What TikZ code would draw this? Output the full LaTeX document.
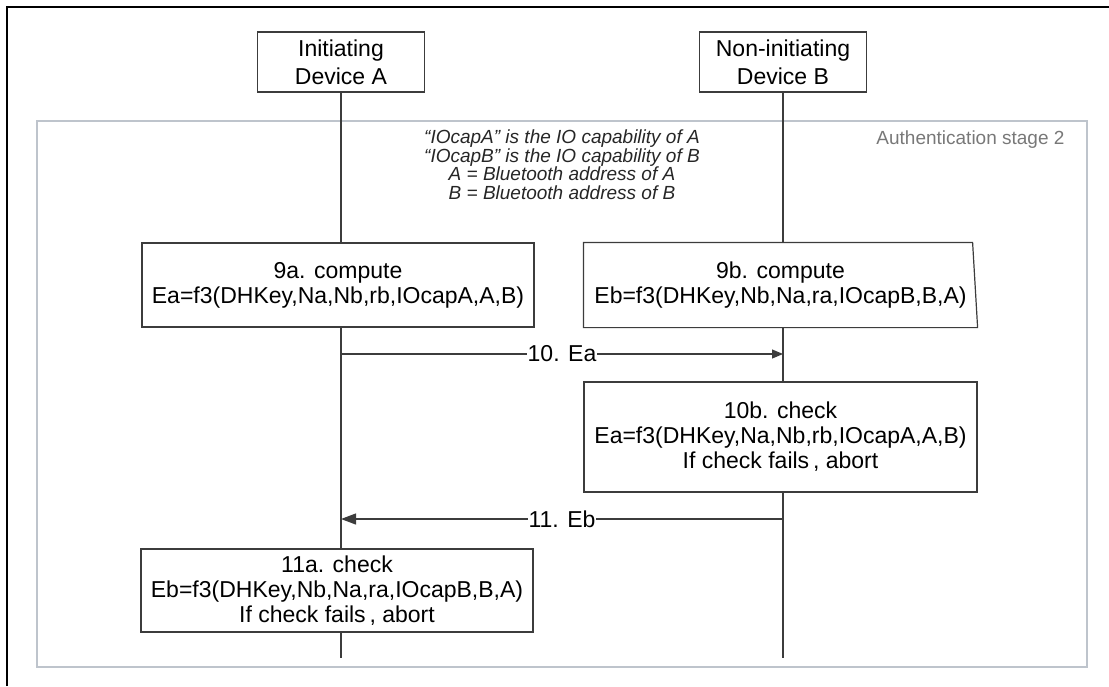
\documentclass[tikz,border=0pt]{standalone}
\usepackage{fontspec}
\setmainfont{Liberation Sans}
\usetikzlibrary{arrows.meta}
\definecolor{linegray}{RGB}{60,60,60}
\definecolor{framegray}{RGB}{190,196,204}
\definecolor{textgray}{RGB}{120,120,120}
\tikzset{
  boxstyle/.style={draw=linegray, line width=1.2pt, fill=white, align=center, inner sep=2pt,
    font=\fontsize{23}{25}\selectfont},
  headstyle/.style={draw=linegray, line width=1.2pt, fill=white, align=center, inner sep=2pt,
    minimum width=167pt, minimum height=60pt, font=\fontsize{23}{28}\selectfont},
  life/.style={draw=linegray, line width=1.2pt},
  msg/.style={draw=linegray, line width=1.2pt},
  msglabel/.style={fill=white, inner sep=1pt, font=\fontsize{23}{25}\selectfont},
  notestyle/.style={align=center, font=\fontsize{19}{18.5}\selectfont\itshape, text=black!85},
}
\begin{document}
\begin{tikzpicture}[x=1pt,y=-1pt]
\useasboundingbox (0,0) rectangle (1109,686);
% outer black frame (partially visible)
\draw[line width=2.5pt, black] (7,686) -- (7,7) -- (1109,7);
% stage frame
\node[draw=framegray, line width=2.5pt, minimum width=1050pt, minimum height=546pt, inner sep=0pt] (stage) at (562,394) {};
\node[anchor=east, text=textgray, font=\fontsize{19}{22}\selectfont] (stagelabel) at (1068,140) {Authentication stage 2};
% lifeline end points
\coordinate (endA) at (341,658);
\coordinate (endB) at (783,658);
% headers
\node[headstyle] (hA) at (341,62) {Initiating\\Device A};
\node[headstyle] (hB) at (783,62) {Non-initiating\\Device B};
% boxes
\node[boxstyle, minimum width=392pt, minimum height=84pt] (a9) at (338,285) {9a. compute\\Ea=f3(DHKey,Na,Nb,rb,IOcapA,A,B)};
\node[boxstyle, draw=none, fill=none, minimum width=393pt, minimum height=84pt] (b9) at (780.5,285) {};
\node[boxstyle, minimum width=393pt, minimum height=110pt] (b10) at (780.5,437) {10b. check\\Ea=f3(DHKey,Na,Nb,rb,IOcapA,A,B)\\If check fails\,, abort};
\node[boxstyle, minimum width=392pt, minimum height=83pt] (a11) at (337,590.5) {11a. check\\Eb=f3(DHKey,Nb,Na,ra,IOcapB,B,A)\\If check fails\,, abort};
% lifelines
\draw[life] (hA.south) -- (hA.south |- a9.north);
\draw[life] (hA.south |- a9.south) -- (hA.south |- a11.north);
\draw[life] (hA.south |- a11.south) -- (endA);
\draw[life] (hB.south) -- (hB.south |- b9.north);
\draw[life] (hB.south |- b9.south) -- (hB.south |- b10.north);
\draw[life] (hB.south |- b10.south) -- (endB);
% 9b box with slanted right edge
\draw[linegray, line width=1.2pt, fill=white] (b9.north west) -- ([xshift=-5pt]b9.north east) -- (b9.south east) -- (b9.south west) -- cycle;
\node[boxstyle, draw=none, fill=none] (b9text) at (b9.center) {9b. compute\\Eb=f3(DHKey,Nb,Na,ra,IOcapB,B,A)};
% note
\node[notestyle] (note) at (562,164.5) {“IOcapA” is the IO capability of A\\“IOcapB” is the IO capability of B\\A = Bluetooth address of A\\B = Bluetooth address of B};
% messages
\coordinate (m10a) at (341,354);
\coordinate (m10b) at (783,354);
\coordinate (m11b) at (783,519);
\coordinate (m11a) at (341,519);
\draw[msg, -{Triangle[length=11pt,width=9pt]}] (m10a) -- node[msglabel] (l10) {10. Ea} (m10b);
\draw[msg, -{Triangle[length=15pt,width=11pt]}] (m11b) -- node[msglabel] (l11) {11. Eb} (m11a);
\end{tikzpicture}
\end{document}
